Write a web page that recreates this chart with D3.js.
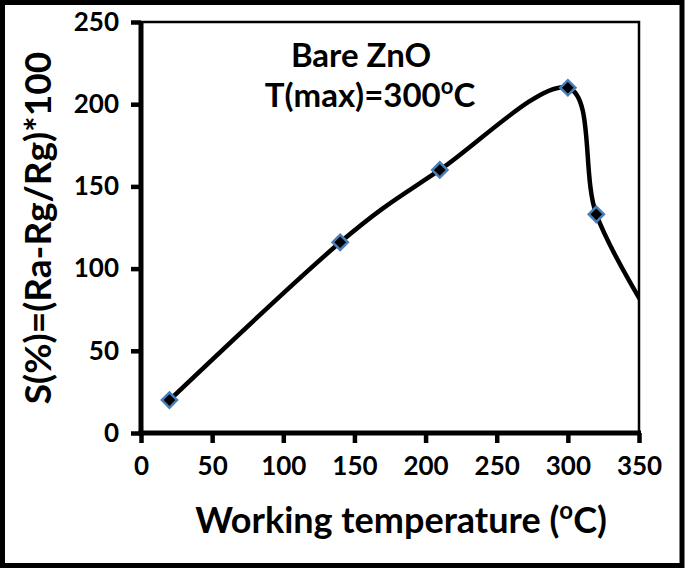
<!DOCTYPE html>
<html>
<head>
<meta charset="utf-8">
<script src="https://cdn.jsdelivr.net/npm/d3@7"></script>
<style>
  body { margin: 0; background: #fff; }
  svg text { font-family: Lato, "Open Sans", sans-serif; font-weight: bold; fill: #000; }
</style>
</head>
<body>
<svg id="chart"></svg>
<script>
// measured sensor response of bare ZnO
var temps = [20, 140, 210, 300, 320, 360]
var response = [20, 116, 160, 210, 133, 68]
var xTicks = [0, 50, 100, 150, 200, 250, 300, 350]
var yTicks = [0, 50, 100, 150, 200, 250]

var width = 685
var height = 571
var pLeft = 141, pRight = 639, pTop = 22, pBottom = 433

var svg = d3.select('#chart')
    .attr('width', width)
    .attr('height', height)

// outer frame
svg.append('rect')
    .attr('x', 2.5).attr('y', 2.5)
    .attr('width', 679.5).attr('height', 563)
    .attr('fill', 'none')
    .attr('stroke', '#000')
    .attr('stroke-width', 5)

var x = d3.scaleLinear().domain([0, 350]).range([pLeft, pRight])
var y = d3.scaleLinear().domain([0, 250]).range([pBottom, pTop])

// plot area border (top/right)
svg.append('path')
    .attr('d', 'M' + pLeft + ',' + pTop + 'H' + pRight + 'V' + pBottom)
    .attr('fill', 'none')
    .attr('stroke', '#000')
    .attr('stroke-width', 2.5)

svg.append('clipPath').attr('id', 'plotclip')
    .append('rect')
    .attr('x', pLeft).attr('y', pTop - 10)
    .attr('width', pRight - pLeft).attr('height', pBottom - pTop + 10)

var pts = temps.map(function(t, i) { return [t, response[i]] })

var line = d3.line()
    .x(function(d) { return x(d[0]) })
    .y(function(d) { return y(d[1]) })
    .curve(d3.curveCardinal.tension(0))

var plot = svg.append('g').attr('clip-path', 'url(#plotclip)')

plot.append('path')
    .datum(pts)
    .attr('d', line)
    .attr('fill', 'none')
    .attr('stroke', '#000')
    .attr('stroke-width', 4.5)

plot.selectAll('.marker')
    .data(pts)
    .enter().append('path')
    .attr('class', 'marker')
    .attr('d', d3.symbol().type(d3.symbolSquare).size(115))
    .attr('transform', function(d) { return 'translate(' + x(d[0]) + ',' + y(d[1]) + ') rotate(45)' })
    .attr('fill', '#000')
    .attr('stroke', '#4a7ebb')
    .attr('stroke-width', 2.5)

// axes
var xAxis = svg.append('g')
    .attr('transform', 'translate(0,' + pBottom + ')')
    .call(d3.axisBottom(x).tickValues(xTicks).tickSize(10).tickPadding(14))
var yAxis = svg.append('g')
    .attr('transform', 'translate(' + pLeft + ',0)')
    .call(d3.axisLeft(y).tickValues(yTicks).tickSize(10).tickPadding(12))

;[xAxis, yAxis].forEach(function(ax) {
    ax.select('.domain').remove()
    ax.selectAll('.tick line').attr('stroke', '#000').attr('stroke-width', 4.5)
    ax.selectAll('.tick text').style('font-size', '26px').attr('fill', '#000')
    ax.attr('font-family', null).attr('font-size', null)
})

svg.append('line')
    .attr('x1', pLeft).attr('x2', pLeft)
    .attr('y1', pTop - 1).attr('y2', pBottom + 2.5)
    .attr('stroke', '#000').attr('stroke-width', 5)
svg.append('line')
    .attr('x1', pLeft - 2.5).attr('x2', pRight + 2)
    .attr('y1', pBottom).attr('y2', pBottom)
    .attr('stroke', '#000').attr('stroke-width', 5)

// axis titles
var xt = svg.append('text')
    .attr('x', 401).attr('y', 533)
    .attr('text-anchor', 'middle')
    .style('font-size', '36px')
xt.append('tspan').text('Working temperature (')
xt.append('tspan').attr('dy', -14).style('font-size', '24px').text('o')
xt.append('tspan').attr('dy', 14).text('C)')

svg.append('text')
    .attr('transform', 'translate(51,228) rotate(-90)')
    .attr('text-anchor', 'middle')
    .style('font-size', '37px')
    .text('S(%)=(Ra-Rg/Rg)*100')

// annotation
svg.append('text')
    .attr('x', 361).attr('y', 67)
    .attr('text-anchor', 'middle')
    .style('font-size', '33px')
    .text('Bare ZnO')
var ann = svg.append('text')
    .attr('x', 370).attr('y', 107)
    .attr('text-anchor', 'middle')
    .style('font-size', '33px')
ann.append('tspan').text('T(max)=300')
ann.append('tspan').attr('dy', -13).style('font-size', '22px').text('o')
ann.append('tspan').attr('dy', 13).text('C')
</script>
</body>
</html>
